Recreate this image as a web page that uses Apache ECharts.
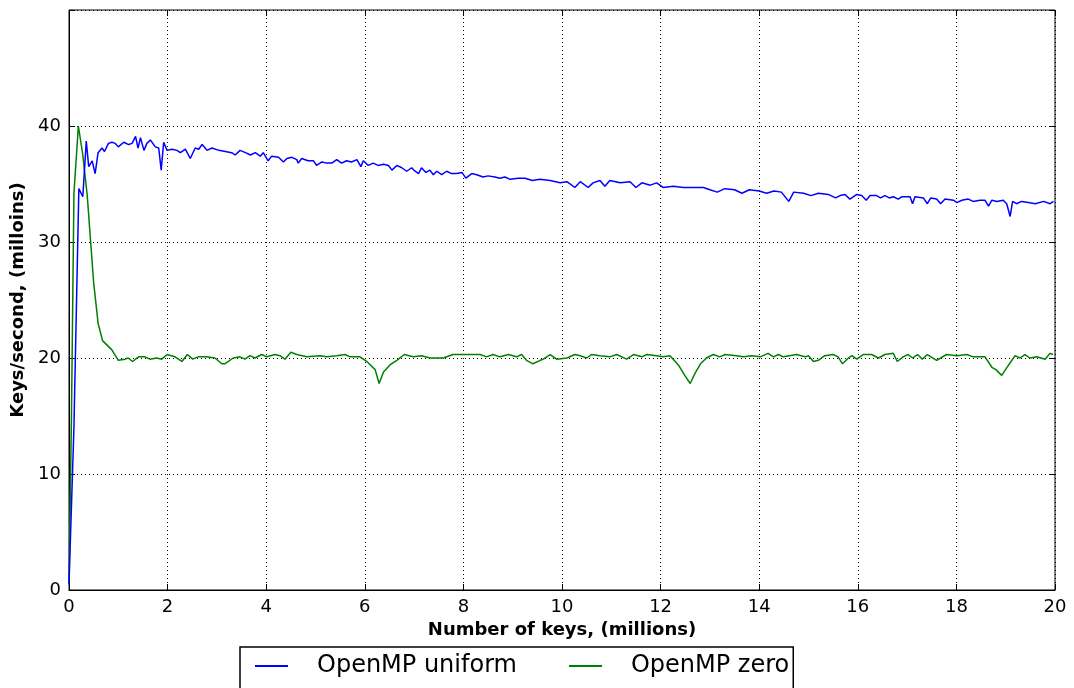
<!DOCTYPE html>
<html>
<head>
<meta charset="utf-8">
<title>OpenMP keys/second</title>
<script src="https://cdn.jsdelivr.net/npm/echarts@6/dist/echarts.min.js"></script>
<style>
    html, body { margin: 0; padding: 0; background: #fff; }
    #chart { width: 1074px; height: 688px; }
</style>
</head>
<body>
<div id="chart"></div>
<script>
// 数据（百万键, 百万键/秒）
var uniformKeys = [0, 0.1, 0.2, 0.28, 0.35, 0.4, 0.47, 0.53, 0.59, 0.67, 0.72, 0.8, 0.87, 0.94, 1.0, 1.11, 1.21, 1.28, 1.35, 1.4, 1.45, 1.52, 1.58, 1.65, 1.75, 1.82, 1.87, 1.92, 1.99,
    2.09, 2.19, 2.26, 2.36, 2.46, 2.56, 2.63, 2.7, 2.8, 2.9, 3.04, 3.17, 3.3, 3.37, 3.47, 3.58, 3.68, 3.78, 3.88, 3.94,
    4.04, 4.11, 4.25, 4.35, 4.42, 4.52, 4.62, 4.65, 4.72, 4.85, 4.96, 5.02, 5.13, 5.23, 5.33, 5.43, 5.53, 5.63, 5.73, 5.84, 5.92, 5.97,
    6.07, 6.17, 6.27, 6.38, 6.48, 6.55, 6.65, 6.75, 6.85, 6.95, 7.02, 7.09, 7.15, 7.24, 7.32, 7.39, 7.46, 7.56, 7.66, 7.76, 7.86, 7.97,
    8.05, 8.17, 8.27, 8.4, 8.5, 8.64, 8.74, 8.84, 8.95, 9.11, 9.25, 9.4, 9.55, 9.76, 9.96,
    10.1, 10.26, 10.37, 10.53, 10.63, 10.77, 10.87, 10.97, 11.18, 11.38, 11.5, 11.62, 11.79, 11.92,
    12.05, 12.26, 12.46, 12.66, 12.87, 13.0, 13.15, 13.3, 13.5, 13.65, 13.8, 14.0, 14.15, 14.3, 14.45, 14.6, 14.7, 14.9,
    15.05, 15.2, 15.4, 15.55, 15.64, 15.74, 15.84, 15.98, 16.08, 16.17, 16.25, 16.38, 16.46, 16.55, 16.64, 16.72, 16.82, 16.89,
    17.06, 17.11, 17.16, 17.33, 17.41, 17.48, 17.6, 17.68, 17.77, 17.94, 18.01, 18.11, 18.24, 18.34, 18.48, 18.58, 18.65, 18.72, 18.82, 18.95,
    19.02, 19.09, 19.14, 19.22, 19.32, 19.46, 19.6, 19.77, 19.9, 19.97];
var uniformRate = [0.5, 14, 34.6, 33.9, 38.7, 36.5, 37.0, 35.9, 37.7, 38.1, 37.8, 38.5, 38.6, 38.5, 38.2, 38.6, 38.4, 38.5, 39.1, 38.1, 39.0, 37.9, 38.5, 38.8, 38.2, 38.1, 36.2, 38.6, 37.9,
    38.0, 37.9, 37.7, 38.0, 37.2, 38.1, 38.0, 38.4, 37.9, 38.1, 37.9, 37.8, 37.7, 37.5, 37.9, 37.7, 37.5, 37.7, 37.4, 37.7,
    37.0, 37.4, 37.3, 36.9, 37.2, 37.3, 37.1, 36.8, 37.2, 37.0, 37.0, 36.6, 36.9, 36.8, 36.8, 37.1, 36.8, 37.0, 36.9, 37.1, 36.5, 37.0,
    36.6, 36.8, 36.6, 36.7, 36.6, 36.2, 36.6, 36.4, 36.1, 36.4, 36.1, 35.9, 36.4, 36.0, 36.2, 35.8, 36.1, 35.8, 36.1, 35.9, 35.9, 36.0,
    35.5, 35.9, 35.8, 35.6, 35.7, 35.6, 35.5, 35.6, 35.4, 35.5, 35.5, 35.3, 35.4, 35.3, 35.1,
    35.2, 34.7, 35.2, 34.7, 35.1, 35.3, 34.8, 35.3, 35.1, 35.2, 34.7, 35.1, 34.9, 35.1,
    34.7, 34.8, 34.7, 34.7, 34.7, 34.5, 34.3, 34.6, 34.5, 34.2, 34.5, 34.4, 34.2, 34.4, 34.3, 33.5, 34.3, 34.2,
    34.0, 34.2, 34.1, 33.8, 34.0, 34.1, 33.7, 34.1, 34.0, 33.6, 34.0, 34.0, 33.8, 34.0, 33.8, 33.9, 33.7, 33.9,
    33.9, 33.3, 33.9, 33.8, 33.3, 33.8, 33.7, 33.3, 33.7, 33.6, 33.4, 33.6, 33.7, 33.5, 33.6, 33.6, 33.1, 33.6, 33.5, 33.6,
    33.3, 32.2, 33.5, 33.3, 33.5, 33.4, 33.3, 33.5, 33.3, 33.5];

var zeroKeys = [0, 0.05, 0.1, 0.19, 0.28, 0.37, 0.5, 0.59, 0.68, 0.87, 1.0, 1.14, 1.2, 1.29, 1.41, 1.54, 1.64, 1.78, 1.88, 1.99,
    2.15, 2.29, 2.4, 2.51, 2.62, 2.79, 2.96, 3.1, 3.16, 3.33, 3.47, 3.57, 3.67, 3.77, 3.91, 4.01, 4.18, 4.28, 4.38, 4.5, 4.62, 4.82,
    5.09, 5.23, 5.43, 5.6, 5.7, 5.9, 6.04, 6.21, 6.29, 6.38, 6.51, 6.65, 6.8, 6.98, 7.15, 7.32, 7.59, 7.79, 8.0, 8.34, 8.47, 8.6, 8.74, 8.91,
    9.08, 9.18, 9.28, 9.41, 9.56, 9.62, 9.76, 9.89, 10.1, 10.26, 10.37, 10.5, 10.6, 10.77, 10.97, 11.11, 11.31, 11.45, 11.62, 11.72, 11.92,
    12.05, 12.19, 12.36, 12.49, 12.6, 12.7, 12.81, 12.93, 13.07, 13.2, 13.31, 13.54, 13.68, 13.85, 14.02, 14.18, 14.29, 14.39, 14.49, 14.76, 14.93,
    15.0, 15.1, 15.2, 15.33, 15.5, 15.6, 15.69, 15.81, 15.88, 15.98, 16.11, 16.28, 16.42, 16.55, 16.72, 16.8, 16.92,
    17.02, 17.11, 17.21, 17.31, 17.41, 17.6, 17.8, 18.01, 18.21, 18.34, 18.58, 18.72, 18.8, 18.92,
    19.06, 19.19, 19.29, 19.39, 19.49, 19.63, 19.8, 19.9, 19.96];
var zeroRate = [0.5, 15, 34.2, 40.0, 37.5, 34.0, 26.5, 23.0, 21.5, 20.7, 19.8, 19.9, 20.0, 19.7, 20.1, 20.1, 19.9, 20.0, 19.9, 20.3,
    20.1, 19.7, 20.3, 19.9, 20.1, 20.1, 20.0, 19.5, 19.5, 20.0, 20.1, 19.9, 20.2, 20.0, 20.3, 20.1, 20.3, 20.2, 19.9, 20.5, 20.3, 20.1,
    20.2, 20.1, 20.2, 20.3, 20.1, 20.1, 19.7, 19.0, 17.8, 18.8, 19.4, 19.8, 20.3, 20.1, 20.2, 20.0, 20.0, 20.3, 20.3, 20.3, 20.1, 20.3, 20.1, 20.3,
    20.1, 20.3, 19.8, 19.5, 19.8, 19.9, 20.3, 19.9, 20.0, 20.3, 20.2, 20.0, 20.3, 20.2, 20.1, 20.3, 19.9, 20.3, 20.1, 20.3, 20.2,
    20.1, 20.2, 19.4, 18.5, 17.8, 18.7, 19.5, 20.0, 20.3, 20.1, 20.3, 20.2, 20.1, 20.2, 20.1, 20.4, 20.1, 20.3, 20.1, 20.3, 20.1,
    20.2, 19.7, 19.8, 20.2, 20.3, 20.1, 19.5, 20.0, 20.2, 19.9, 20.3, 20.3, 20.0, 20.3, 20.4, 19.7, 20.1,
    20.3, 20.0, 20.3, 19.9, 20.3, 19.8, 20.3, 20.2, 20.3, 20.1, 20.1, 19.2, 19.0, 18.5,
    19.4, 20.2, 20.0, 20.3, 20.0, 20.1, 19.9, 20.4, 20.3];

var seriesNames = ['OpenMP uniform', 'OpenMP zero'];

function pairs(xs, ys) {
    var out = [];
    for (var i = 0; i < xs.length; i++) {
        out.push([xs[i], ys[i]]);
    }
    return out;
}

var chart = echarts.init(document.getElementById('chart'));
var font = 'DejaVu Sans';
var dotted = { color: '#000', width: 1, type: [1, 3] };

var option = {
    animation: false,
    backgroundColor: '#fff',
    color: ['#0000ff', '#008000'],
    textStyle: { fontFamily: font, color: '#000' },
    grid: { left: 69, right: 19, top: 10, bottom: 98, containLabel: false, show: true, borderColor: '#000', borderWidth: 1 },
    legend: {
        data: seriesNames,
        left: 240,
        top: 647,
        padding: [7, 4, 16, 15],
        itemGap: 52,
        itemWidth: 33,
        itemHeight: 2,
        icon: 'rect',
        borderColor: '#000',
        borderWidth: 1.5,
        borderRadius: 0,
        backgroundColor: '#fff',
        textStyle: { fontFamily: font, fontSize: 24, color: '#000', padding: [0, 0, 0, 24] }
    },
    xAxis: [
        {
            type: 'value',
            min: 0,
            max: 20,
            interval: 2,
            name: 'Number of keys, (millions)',
            nameLocation: 'middle',
            nameGap: 30,
            nameTextStyle: { fontFamily: font, fontSize: 18, fontWeight: 'bold', color: '#000' },
            axisLine: { show: true, onZero: false, lineStyle: { color: '#000', width: 1 } },
            axisTick: { show: true, inside: true, length: 6, lineStyle: { color: '#000' } },
            axisLabel: { fontFamily: font, fontSize: 18, color: '#000', margin: 8 },
            splitLine: { show: true, lineStyle: dotted }
        },
        {
            type: 'value',
            position: 'top',
            min: 0,
            max: 20,
            interval: 2,
            axisLine: { show: false, onZero: false },
            axisTick: { show: true, inside: true, length: 6, lineStyle: { color: '#000' } },
            axisLabel: { show: false },
            splitLine: { show: false }
        }
    ],
    yAxis: [
        {
            type: 'value',
            min: 0,
            max: 50,
            interval: 10,
            name: 'Keys/second, (milloins)',
            nameLocation: 'middle',
            nameGap: 36,
            nameTextStyle: { fontFamily: font, fontSize: 18, fontWeight: 'bold', color: '#000' },
            axisLine: { show: true, onZero: false, lineStyle: { color: '#000', width: 1 } },
            axisTick: { show: true, inside: true, length: 6, lineStyle: { color: '#000' } },
            axisLabel: {
                fontFamily: font, fontSize: 18, color: '#000', margin: 8,
                formatter: function (v) { return v >= 50 ? '' : v; }
            },
            splitLine: { show: true, lineStyle: dotted }
        },
        {
            type: 'value',
            position: 'right',
            min: 0,
            max: 50,
            interval: 10,
            axisLine: { show: false, onZero: false },
            axisTick: { show: true, inside: true, length: 6, lineStyle: { color: '#000' } },
            axisLabel: { show: false },
            splitLine: { show: false }
        }
    ],
    series: [
        {
            name: seriesNames[0],
            type: 'line',
            showSymbol: false,
            symbol: 'none',
            lineStyle: { width: 1.5, color: '#0000ff' },
            data: pairs(uniformKeys, uniformRate),
            z: 3
        },
        {
            name: seriesNames[1],
            type: 'line',
            showSymbol: false,
            symbol: 'none',
            lineStyle: { width: 1.5, color: '#008000' },
            data: pairs(zeroKeys, zeroRate),
            z: 2
        }
    ]
};
chart.setOption(option);
</script>
</body>
</html>
